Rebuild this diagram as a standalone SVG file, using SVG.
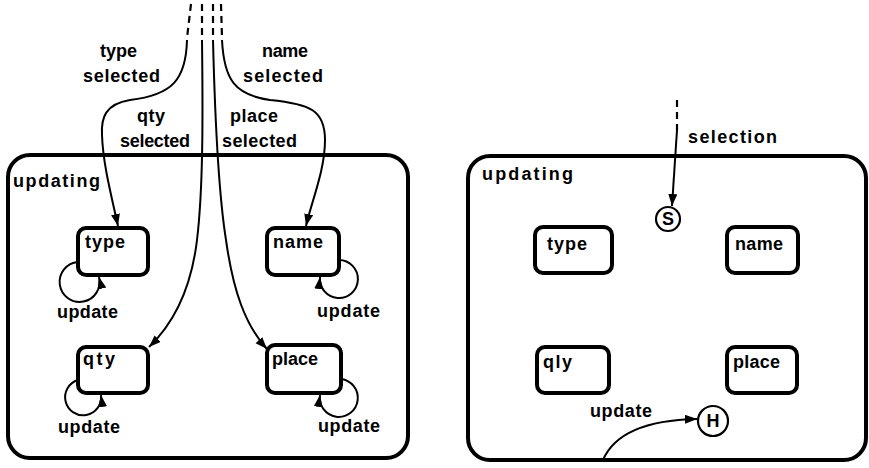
<svg xmlns="http://www.w3.org/2000/svg" width="869" height="468" viewBox="0 0 869 468">
<style>
.box{fill:none;stroke:#000;stroke-width:4}
.node rect{fill:#fff;stroke:#000;stroke-width:4}
.pt{fill:#fff;stroke:#000;stroke-width:2.2}
.ln{fill:none;stroke:#000;stroke-width:2}
.dash{fill:none;stroke:#000;stroke-width:2.2;stroke-dasharray:7 5}
text{font-family:"Liberation Sans",Arial,sans-serif;font-weight:bold;font-size:18px;fill:#000}
.c{text-anchor:middle}
</style>
<defs>
<marker id="ah" markerUnits="userSpaceOnUse" markerWidth="13" markerHeight="10" refX="12" refY="4.5" orient="auto">
<path d="M0,0 L12,4.5 L0,9 Z" fill="#000"/>
</marker>
</defs>
<rect width="869" height="468" fill="#fff"/>

<g id="left-updating">
<rect class="box" x="8" y="155" width="400" height="303" rx="22"/>
<text x="13" y="187" textLength="87" lengthAdjust="spacing">updating</text>
</g>
<g id="right-updating">
<rect class="box" x="468" y="156" width="398" height="304" rx="22"/>
<text x="482" y="180" textLength="91" lengthAdjust="spacing">updating</text>
</g>

<g id="connectors">
<path class="dash" d="M191,4 L187,38"/>
<path class="dash" d="M202,4 L202,38"/>
<path class="dash" d="M213,4 L213,38"/>
<path class="dash" d="M221,4 L222,38"/>
<path class="ln" marker-end="url(#ah)" d="M187,40 C186,80 172,95 130,100 C105,104 101,118 102,135 C103,165 112,198 118,226"/>
<path class="ln" marker-end="url(#ah)" d="M202,40 C203,120 203,190 197,240 C191,290 172,325 149,347"/>
<path class="ln" marker-end="url(#ah)" d="M213,40 C215,120 218,190 226,240 C233,290 245,325 267,349"/>
<path class="ln" marker-end="url(#ah)" d="M222,40 C224,80 235,95 270,100 C310,104 325,110 325,140 C325,170 312,200 306,226"/>
<path class="ln" marker-end="url(#ah)" d="M78,262 A20,20 0 1 0 99,277"/>
<path class="ln" marker-end="url(#ah)" d="M339,260 A19,19 0 1 1 320,277"/>
<path class="ln" marker-end="url(#ah)" d="M78,380 A18,18 0 1 0 101,395"/>
<path class="ln" marker-end="url(#ah)" d="M341,379 A19,19 0 1 1 320,395"/>
<path class="dash" d="M677,100 L677,130"/>
<path class="ln" marker-end="url(#ah)" d="M677,130 L672,206"/>
<path class="ln" marker-end="url(#ah)" d="M603,460 C615,432 648,420 697,419"/>
</g>

<g id="labels">
<text x="100" y="57" textLength="37" lengthAdjust="spacing">type</text>
<text x="83" y="82" textLength="77" lengthAdjust="spacing">selected</text>
<text x="262" y="57" textLength="46" lengthAdjust="spacing">name</text>
<text x="243" y="82" textLength="80" lengthAdjust="spacing">selected</text>
<text x="137" y="122" textLength="28" lengthAdjust="spacing">qty</text>
<text x="120" y="147" textLength="70" lengthAdjust="spacing">selected</text>
<text x="230" y="122" textLength="48" lengthAdjust="spacing">place</text>
<text x="222" y="147" textLength="75" lengthAdjust="spacing">selected</text>
<text x="57" y="318" textLength="61" lengthAdjust="spacing">update</text>
<text x="317" y="317" textLength="63" lengthAdjust="spacing">update</text>
<text x="58" y="433" textLength="62" lengthAdjust="spacing">update</text>
<text x="318" y="432" textLength="62" lengthAdjust="spacing">update</text>
<text x="688" y="143" textLength="89" lengthAdjust="spacing">selection</text>
<text x="590" y="417" textLength="62" lengthAdjust="spacing">update</text>
</g>

<g id="L-type" class="node"><rect x="78" y="228" width="70" height="47" rx="8"/><text x="85" y="248" textLength="40" lengthAdjust="spacing">type</text></g>
<g id="L-name" class="node"><rect x="267" y="228" width="72" height="47" rx="8"/><text x="273" y="248" textLength="50" lengthAdjust="spacing">name</text></g>
<g id="L-qty" class="node"><rect x="78" y="347" width="70" height="46" rx="8"/><text x="83" y="365" textLength="32" lengthAdjust="spacing">qty</text></g>
<g id="L-place" class="node"><rect x="267" y="345" width="74" height="48" rx="8"/><text x="272" y="365" textLength="46" lengthAdjust="spacing">place</text></g>

<g id="R-type" class="node"><rect x="535" y="227" width="77" height="46" rx="8"/><text x="547" y="250" textLength="40" lengthAdjust="spacing">type</text></g>
<g id="R-name" class="node"><rect x="727" y="227" width="71" height="46" rx="8"/><text x="735" y="250" textLength="48" lengthAdjust="spacing">name</text></g>
<g id="R-qly" class="node"><rect x="537" y="347" width="72" height="46" rx="8"/><text x="543" y="368" textLength="29" lengthAdjust="spacing">qly</text></g>
<g id="R-place" class="node"><rect x="727" y="347" width="70" height="46" rx="8"/><text x="733" y="368" textLength="47" lengthAdjust="spacing">place</text></g>

<g id="S"><circle class="pt" cx="668" cy="219" r="12"/><text class="c" x="668" y="225">S</text></g>
<g id="H"><circle class="pt" cx="713" cy="421" r="15"/><text class="c" x="713" y="427">H</text></g>
</svg>
